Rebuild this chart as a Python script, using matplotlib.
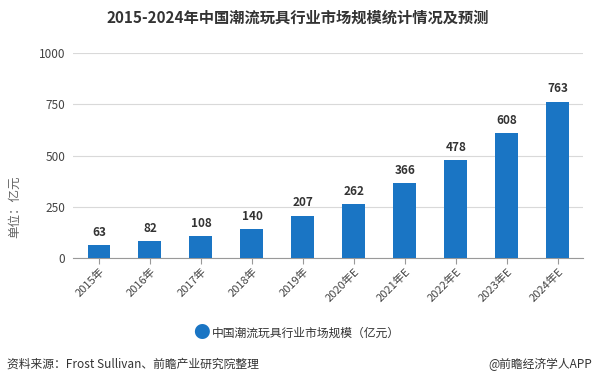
import matplotlib.pyplot as plt
import numpy as np

plt.rcParams['font.family'] = ['Noto Sans CJK SC', 'DejaVu Sans']

years = ['2015年', '2016年', '2017年', '2018年', '2019年',
         '2020年E', '2021年E', '2022年E', '2023年E', '2024年E']
values = [63, 82, 108, 140, 207, 262, 366, 478, 608, 763]
y_ticks = [0, 250, 500, 750, 1000]

bar_color = '#1a75c4'

fig = plt.figure(figsize=(5.95, 3.86), dpi=100)
ax = fig.add_axes([0.1235, 0.3316, 0.857, 0.5311])

x = np.arange(len(years))
ax.bar(x, values, width=0.45, color=bar_color, zorder=3)

for xi, v in zip(x, values):
    ax.text(xi, v + 30, str(v), ha='center', va='bottom', fontsize=8.5,
            fontweight='bold', color='#333333', zorder=4)

ax.set_xlim(-0.5, len(years) - 0.5)
ax.set_ylim(0, 1000)
ax.set_yticks(y_ticks)
ax.set_yticklabels([str(t) for t in y_ticks], fontsize=8.5, color='#444444')
ax.set_xticks(x)
ax.set_xticklabels(years, rotation=45, ha='right', rotation_mode='anchor',
                   fontsize=8, color='#444444')

ax.grid(axis='y', color='#d9d9d9', linewidth=0.8, zorder=0)
for side in ['top', 'right', 'left']:
    ax.spines[side].set_visible(False)
ax.spines['bottom'].set_color('#999999')
ax.tick_params(axis='y', length=0, pad=6)
ax.tick_params(axis='x', length=4, color='#999999', pad=2)

fig.text(0.025, 0.465, '单位：亿元', rotation=90, ha='center', va='center',
         fontsize=9, color='#666666')

fig.text(0.5, 0.953, '2015-2024年中国潮流玩具行业市场规模统计情况及预测',
         ha='center', va='center', fontsize=11, fontweight='bold', color='#333333')

# legend
fig.text(0.338, 0.137, '●', ha='center', va='center', fontsize=12, color=bar_color)
fig.text(0.356, 0.137, '中国潮流玩具行业市场规模（亿元）', ha='left', va='center',
         fontsize=8.5, color='#333333')

fig.text(0.012, 0.057, '资料来源：Frost Sullivan、前瞻产业研究院整理', ha='left', va='center',
         fontsize=8.5, color='#333333')
fig.text(0.995, 0.057, '@前瞻经济学人APP', ha='right', va='center',
         fontsize=8.5, color='#333333')

fig.savefig('out.png', dpi=100)
